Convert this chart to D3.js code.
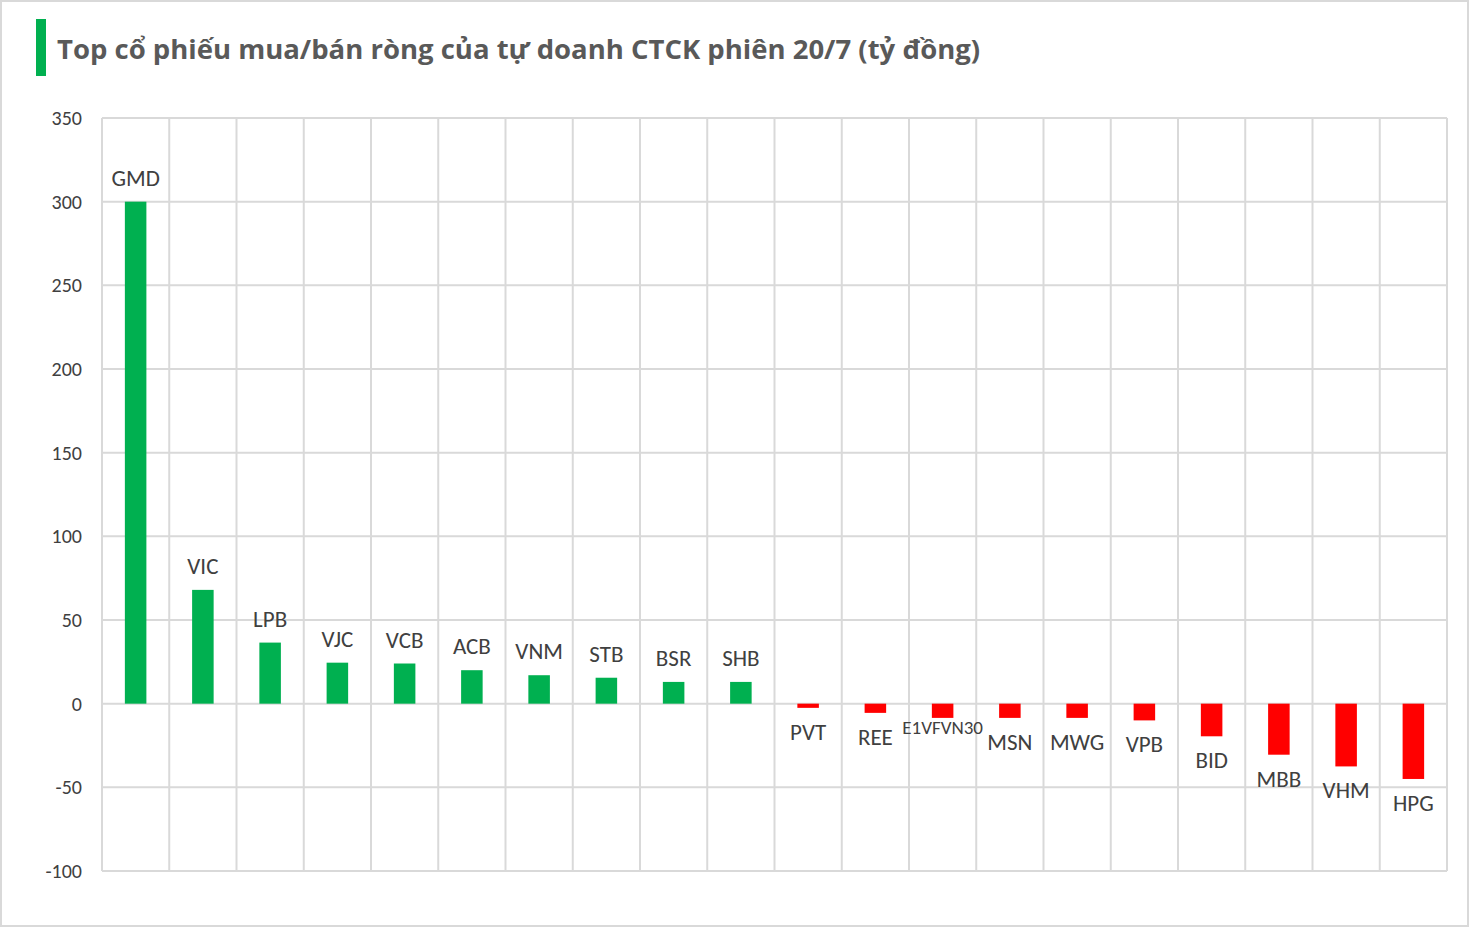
<!DOCTYPE html><html><head><meta charset="utf-8"><script src="https://cdn.jsdelivr.net/npm/d3@7"></script>
<style>body{margin:0;background:#fff}</style></head><body><svg id="c" width="1470" height="928"></svg><script>
const categories=["GMD","VIC","LPB","VJC","VCB","ACB","VNM","STB","BSR","SHB","PVT","REE","E1VFVN30","MSN","MWG","VPB","BID","MBB","VHM","HPG"];
const values=[300,68,36.5,24.5,24,20,17,15.5,13,13,-2.5,-5.5,-8.5,-8.5,-8.5,-10,-19.5,-30.5,-37.5,-45];
const yTicks=[350,300,250,200,150,100,50,0,-50,-100];
const svg=d3.select("#c");
svg.append("rect").attr("x",1).attr("y",1).attr("width",1467).attr("height",925).attr("fill","#fff").attr("stroke","#d9d9d9").attr("stroke-width",2);
svg.append("rect").attr("x",36).attr("y",19).attr("width",10).attr("height",57).attr("fill","#00b050");
svg.append("text").attr("x",57).attr("y",59).attr("font-family","Open Sans, sans-serif").attr("font-weight","bold").attr("font-size",27.5).attr("fill","#595959").text("Top cổ phiếu mua/bán ròng của tự doanh CTCK phiên 20/7 (tỷ đồng)");
const x=d3.scaleBand().domain(categories).range([102,1447]);
const y=d3.scaleLinear().domain([-100,350]).range([871,118]);
const g=svg.append("g");
const lf="Carlito, Calibri, Open Sans, sans-serif";
yTicks.forEach(t=>{g.append("line").attr("x1",102).attr("x2",1447).attr("y1",y(t)).attr("y2",y(t)).attr("stroke","#d9d9d9").attr("stroke-width",2);
g.append("text").attr("x",82).attr("y",y(t)+7).attr("text-anchor","end").attr("font-family",lf).attr("font-size",20).attr("fill","#404040").text(t);});
categories.concat([null]).forEach((c,i)=>{const xx=c?x(c):1447;g.append("line").attr("x1",xx).attr("x2",xx).attr("y1",118).attr("y2",871).attr("stroke","#d9d9d9").attr("stroke-width",2);});
const bw=x.bandwidth()*0.32;
categories.forEach((c,i)=>{const v=values[i];const cx=x(c)+x.bandwidth()/2;
g.append("rect").attr("x",cx-bw/2).attr("width",bw).attr("y",y(Math.max(0,v))).attr("height",Math.abs(y(v)-y(0))).attr("fill",v>=0?"#00b050":"#ff0000");
const small=c==="E1VFVN30";
g.append("text").attr("x",cx).attr("y",v>=0?y(v)-16:y(v)+(small?16:32)).attr("text-anchor","middle").attr("font-family",lf).attr("font-size",small?19:23).attr("fill","#404040").text(c);});
</script></body></html>
